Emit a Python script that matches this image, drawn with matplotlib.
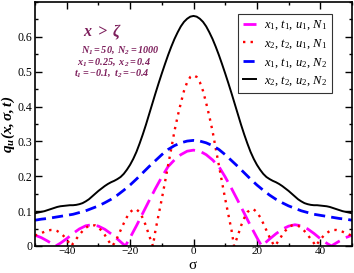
import matplotlib
matplotlib.use("Agg")
import matplotlib.pyplot as plt
from matplotlib.ticker import MultipleLocator
import numpy as np

plt.rcParams['font.family'] = ['Liberation Serif', 'DejaVu Serif']
plt.rcParams['mathtext.fontset'] = 'custom'
plt.rcParams['mathtext.rm'] = 'Liberation Serif'
plt.rcParams['mathtext.it'] = 'Liberation Serif:italic'
plt.rcParams['mathtext.bf'] = 'Liberation Serif:bold:italic'

# values (sigma >= 0, curves are symmetric)
sig_m = [0, 2, 4, 6, 8, 10, 12, 14, 16, 18, 20, 21.5, 22, 24, 26, 28, 30, 32, 34,
         36, 38, 40, 42, 43.5, 44, 46, 48, 50]
q_m = [0.275, 0.272, 0.262, 0.247, 0.228, 0.198, 0.165, 0.13, 0.094, 0.058, 0.024, 0.0,
       0.004, 0.02, 0.035, 0.048, 0.057, 0.061, 0.058, 0.049, 0.036, 0.021, 0.008, 0.0,
       0.003, 0.014, 0.024, 0.031]

sig_r = [0, 1, 2, 3, 4, 5, 6, 7, 8, 9, 10, 11, 12, 12.8, 14, 15, 16, 17, 18, 19, 20,
         21, 22, 23, 24, 25, 25.6, 26, 27, 28, 29, 30, 31, 32, 33, 34, 35, 36, 37, 38,
         38.4, 39, 40, 41, 42, 43, 44, 45, 46, 47, 48, 49, 50]
q_r = [0.49, 0.485, 0.47, 0.445, 0.41, 0.372, 0.33, 0.28, 0.232, 0.183, 0.135, 0.09,
       0.045, 0.0, 0.03, 0.058, 0.08, 0.097, 0.105, 0.105, 0.097, 0.083, 0.065, 0.045,
       0.025, 0.008, 0.0, 0.004, 0.017, 0.032, 0.044, 0.053, 0.059, 0.06, 0.058, 0.052,
       0.043, 0.032, 0.02, 0.008, 0.0, 0.006, 0.018, 0.029, 0.037, 0.043, 0.046, 0.046,
       0.044, 0.041, 0.037, 0.033, 0.03]

sig_b = [0, 2, 4, 6, 8, 10, 12, 14, 16, 18, 20, 22, 24, 26, 28, 30, 32, 34, 36, 38,
         40, 42, 44, 46, 48, 50]
q_b = [0.303, 0.301, 0.296, 0.288, 0.277, 0.262, 0.245, 0.228, 0.21, 0.192, 0.175,
       0.16, 0.146, 0.134, 0.124, 0.115, 0.108, 0.101, 0.096, 0.091, 0.088, 0.085,
       0.082, 0.079, 0.077, 0.074]

sig_k = list(range(0, 51))
q_k = [0.66, 0.658, 0.652, 0.643, 0.63, 0.613, 0.594, 0.572, 0.548, 0.522, 0.495,
       0.467, 0.438, 0.408, 0.378, 0.348, 0.32, 0.294, 0.27, 0.25, 0.233, 0.219, 0.207,
       0.198, 0.192, 0.187, 0.183, 0.178, 0.172, 0.165, 0.158, 0.15, 0.142, 0.134,
       0.128, 0.123, 0.12, 0.118, 0.117, 0.117, 0.116, 0.115, 0.114, 0.112, 0.109,
       0.106, 0.103, 0.1, 0.098, 0.096, 0.094]

labels = [r'$x_{\mathit{1}},\, t_{\mathit{1}},\, u_{\mathit{1}},\, N_{\mathit{1}}$',
          r'$x_{\mathit{2}},\, t_{\mathit{2}},\, u_{\mathit{1}},\, N_{\mathit{1}}$',
          r'$x_{\mathit{1}},\, t_{\mathit{1}},\, u_{\mathit{2}},\, N_{\mathit{2}}$',
          r'$x_{\mathit{2}},\, t_{\mathit{2}},\, u_{\mathit{2}},\, N_{\mathit{2}}$']


def full(s, q):
    s = np.array(s, dtype=float)
    q = np.array(q, dtype=float)
    return np.concatenate([-s[:0:-1], s]), np.concatenate([q[:0:-1], q])


fig = plt.figure(figsize=(3.54, 2.73), dpi=100)
ax = fig.add_axes([35/354, 27/273, 317/354, 244/273])

x, y = full(sig_m, q_m)
ax.plot(x, y, color='#ff00ff', lw=2.0, ls=(0, (6, 2.5)), label=labels[0])
x, y = full(sig_r, q_r)
ax.plot(x, y, color='#ff0000', lw=1.7, ls=(0, (1, 2.2)), label=labels[1])
x, y = full(sig_b, q_b)
ax.plot(x, y, color='#0000ff', lw=2.0, ls=(0, (4, 2.2)), label=labels[2])
x, y = full(sig_k, q_k)
ax.plot(x, y, color='black', lw=1.4, label=labels[3])

ax.set_xlim(-50, 50)
ax.set_ylim(0, 0.7)
ax.xaxis.set_minor_locator(MultipleLocator(10))
ax.yaxis.set_minor_locator(MultipleLocator(0.05))
ax.set_xticks([-40, -20, 0, 20, 40])
ax.set_yticks([0, 0.1, 0.2, 0.3, 0.4, 0.5, 0.6])
ax.set_yticklabels(['0', '0.1', '0.2', '0.3', '0.4', '0.5', '0.6'])
ax.tick_params(which='both', direction='in', top=True, right=True, labelsize=8.5,
               width=1.0)
ax.tick_params(which='major', length=5, pad=2)
ax.tick_params(which='minor', length=2.5)
ax.tick_params(axis='x', which='major', pad=1, labelsize=8)
for sp in ax.spines.values():
    sp.set_linewidth(1.2)

ax.set_xlabel(r'$\mathrm{\sigma}$', fontsize=11)
ax.xaxis.label.set_va('bottom')
ax.xaxis.set_label_coords(0.5, -26 / 244)
ax.set_ylabel(r'$\mathbf{q_u(x,\sigma,t)}$', fontsize=11, labelpad=0)

col = '#7d1f5c'
ax.text(-34.8, 0.60, r'$\mathbf{x\ >\ \zeta}$', fontsize=11.5, color=col)
ax.text(-35.5, 0.555, r'$\mathbf{N_1 = 50,\ N_2 = 1000}$', fontsize=7.3, color=col)
ax.text(-36.8, 0.522, r'$\mathbf{x_1 = 0.25,\ x_2 = 0.4}$', fontsize=7.3, color=col)
ax.text(-37.8, 0.489, r'$\mathbf{t_1 = \mathrm{-}0.1,\ t_2 = \mathrm{-}0.4}$',
        fontsize=7.3, color=col)

leg = ax.legend(loc='upper right', bbox_to_anchor=(0.937, 0.951), fontsize=9,
                frameon=True, fancybox=False, edgecolor='black', handlelength=1.1,
                handletextpad=0.6, borderpad=0.4, labelspacing=0.4, borderaxespad=0)
leg.get_frame().set_linewidth(0.8)

fig.savefig('out.png', dpi=100)
